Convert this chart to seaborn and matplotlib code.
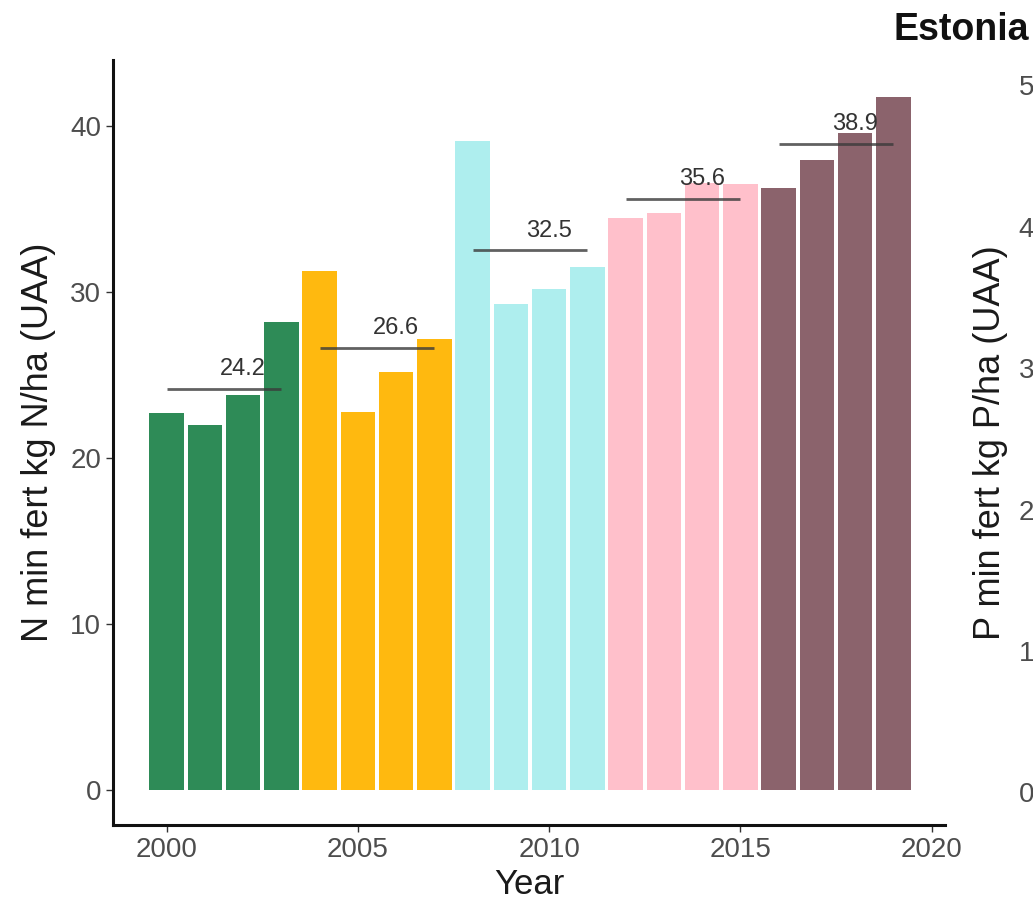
import numpy as np
import pandas as pd
import matplotlib
matplotlib.use("Agg")
import matplotlib.pyplot as plt
import seaborn as sns

# N mineral fertiliser use, Estonia, by year
years = [2000, 2001, 2002, 2003, 2004, 2005, 2006, 2007, 2008, 2009,
         2010, 2011, 2012, 2013, 2014, 2015, 2016, 2017, 2018, 2019]
n_values = [22.7, 22.0, 23.8, 28.2, 31.3, 22.8, 25.2, 27.2, 39.1, 29.3,
            30.2, 31.5, 34.5, 34.8, 36.6, 36.5, 36.3, 38.0, 39.6, 41.8]
periods = ["2000-2003"] * 4 + ["2004-2007"] * 4 + ["2008-2011"] * 4 + \
          ["2012-2015"] * 4 + ["2016-2019"] * 4
period_colors = ["#2E8B57", "#FFB90F", "#AEEEEE", "#FFC0CB", "#8B636C"]

p_ticks = [0, 1, 2, 3, 4, 5]

df = pd.DataFrame({"Year": years, "N": n_values, "Period": periods})

sns.set_theme(style="white")
plt.rcParams["font.family"] = ["Liberation Sans", "DejaVu Sans"]

W, H = 1033, 905
fig = plt.figure(figsize=(W / 100, H / 100), dpi=100)

# main panel
ax = fig.add_axes([113 / W, 1 - 825 / H, (945 - 113) / W, (825 - 60) / H])
sns.barplot(data=df, x="Year", y="N", hue="Period",
            palette=period_colors, native_scale=True, dodge=False,
            width=0.9, saturation=1, linewidth=0, legend=False, ax=ax)

# period means: a line spanning the period and its value above
for period, grp in df.groupby("Period", sort=True):
    m = grp["N"].mean()
    x0, x1 = grp["Year"].min(), grp["Year"].max()
    ax.plot([x0, x1], [m, m], color="#3a3a3a", lw=2.0, alpha=0.8,
            solid_capstyle="butt", zorder=5)
    ax.text(x0 + 2, m + 1.2, f"{m:.1f}", ha="center", va="center",
            fontsize=17, color="#333333", zorder=6)

ax.set_xlim(1998.6, 2020.35)
ax.set_ylim(-2.1, 44)
ax.set_xticks([2000, 2005, 2010, 2015, 2020])
ax.set_yticks([0, 10, 20, 30, 40])
ax.set_xlabel("Year", fontsize=25, color="#1a1a1a", labelpad=4)
ax.set_ylabel("N min fert kg N/ha (UAA)", fontsize=26, color="#1a1a1a",
              labelpad=10)
ax.tick_params(axis="both", labelsize=20, labelcolor="#4D4D4D",
               length=5, width=1, color="#333333", left=True, bottom=True)
for side in ["top", "right"]:
    ax.spines[side].set_visible(False)
for side in ["left", "bottom"]:
    ax.spines[side].set_color("#111111")
    ax.spines[side].set_linewidth(2.2)

# neighbouring P panel (axis only, continues to the right)
ax2 = fig.add_axes([1046 / W, 1 - 825 / H, 0.8, (825 - 60) / H])
ax2.set_ylim(-0.23, 5.18)
ax2.set_yticks(p_ticks)
ax2.set_xticks([])
ax2.set_ylabel("P min fert kg P/ha (UAA)", fontsize=26, color="#1a1a1a",
               labelpad=8)
ax2.tick_params(axis="y", labelsize=20, labelcolor="#4D4D4D", length=5,
                left=True)
for side in ["top", "right"]:
    ax2.spines[side].set_visible(False)

fig.text(893 / W, 1 - 30 / H, "Estonia", ha="left", va="center",
         fontsize=27, fontweight="bold", color="#111111")

fig.savefig("out.png", dpi=100)
